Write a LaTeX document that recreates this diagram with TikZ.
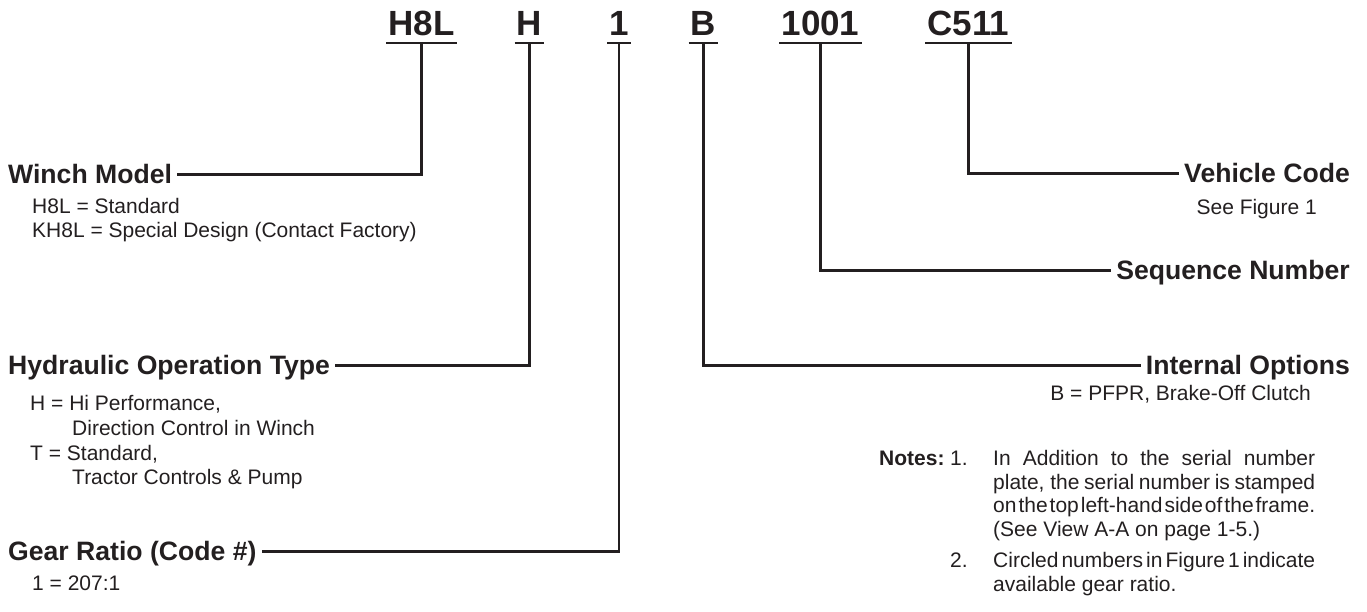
\documentclass[tikz,border=0pt]{standalone}
\usepackage{fontspec}
\setmainfont{Liberation Sans}
\definecolor{ink}{HTML}{231F20}
\newcommand\jl[1]{\hbox to 322pt{\spaceskip=0pt plus 1fil\relax #1}}
\begin{document}
\begin{tikzpicture}[x=1pt,y=-1pt, color=ink,
 code/.style={font=\fontsize{35}{40}\selectfont\bfseries, inner xsep=2pt, inner ysep=0pt, text height=25pt, text depth=8pt, anchor=base},
 lbl/.style={font=\fontsize{26.6}{30}\selectfont\bfseries, inner xsep=5pt, inner ysep=0pt, text height=19pt, text depth=2pt},
 sub/.style={font=\fontsize{21}{24}\selectfont, inner sep=0pt, anchor=base west},
 subr/.style={sub, anchor=base east},
 subb/.style={sub, font=\fontsize{21}{24}\selectfont\bfseries},
 link/.style={draw=ink, line width=2.2pt}]
\useasboundingbox (0,0) rectangle (1367,611);
% code characters
\node[code] (cH8L) at (421.5,35) {H8L};
\node[code] (cH)   at (529.5,35) {H};
\node[code] (c1)   at (619,35)   {1};
\node[code] (cB)   at (703.5,35) {B};
\node[code] (c1001) at (820.5,35) {1001};
\node[code] (cC511) at (968.5,35) {C511};
\foreach \n in {cH8L,cH,c1,cB,c1001,cC511}
  \draw[link] (\n.south west) -- (\n.south east);
% labels
\node[lbl, anchor=base west] (lWinch) at (3,183) {Winch Model};
\node[lbl, anchor=base west] (lHyd)   at (3,374) {Hydraulic Operation Type};
\node[lbl, anchor=base west] (lGear)  at (3,560) {Gear Ratio (Code \#)};
\node[lbl, anchor=base east] (lVeh)   at (1355,182) {Vehicle Code};
\node[lbl, anchor=base east] (lSeq)   at (1355,279) {Sequence Number};
\node[lbl, anchor=base east] (lInt)   at (1355,374) {Internal Options};
% connectors
\draw[link] (cH8L.south) |- (lWinch.east);
\draw[link] (cH.south) |- (lHyd.east);
\draw[link] (c1.south) |- (lGear.east);
\draw[link] (cB.south) |- (lInt.west);
\draw[link] (c1001.south) |- (lSeq.west);
\draw[link] (cC511.south) |- (lVeh.west);
% descriptions
\node[sub] (w1) at (32,213) {H8L = Standard};
\node[sub] (w2) at (32,237) {KH8L = Special Design (Contact Factory)};
\node[sub] (h1) at (30,410) {H = Hi Performance,};
\node[sub] (h2) at (72,435) {Direction Control in Winch};
\node[sub] (h3) at (30,460) {T = Standard,};
\node[sub] (h4) at (72,484) {Tractor Controls \& Pump};
\node[sub] (g1) at (32,590) {1 = 207:1};
\node[subr] (v1) at (1317,214) {See Figure 1};
\node[subr] (i1) at (1311,400) {B = PFPR, Brake-Off Clutch};
% notes
\node[subb] (nN) at (879,465) {Notes:};
\node[sub] (n1) at (950,465) {1.};
\node[sub] (n1a) at (993,465) {\jl{In Addition to the serial number}};
\node[sub] (n1b) at (993,489) {\jl{plate, the serial number is stamped}};
\node[sub] (n1c) at (993,512) {\jl{on the top left-hand side of the frame.}};
\node[sub] (n1d) at (993,536) {(See View A-A on page 1-5.)};
\node[sub] (n2) at (950,567) {2.};
\node[sub] (n2a) at (993,567) {\jl{Circled numbers in Figure 1 indicate}};
\node[sub] (n2b) at (993,591) {available gear ratio.};
\end{tikzpicture}
\end{document}
